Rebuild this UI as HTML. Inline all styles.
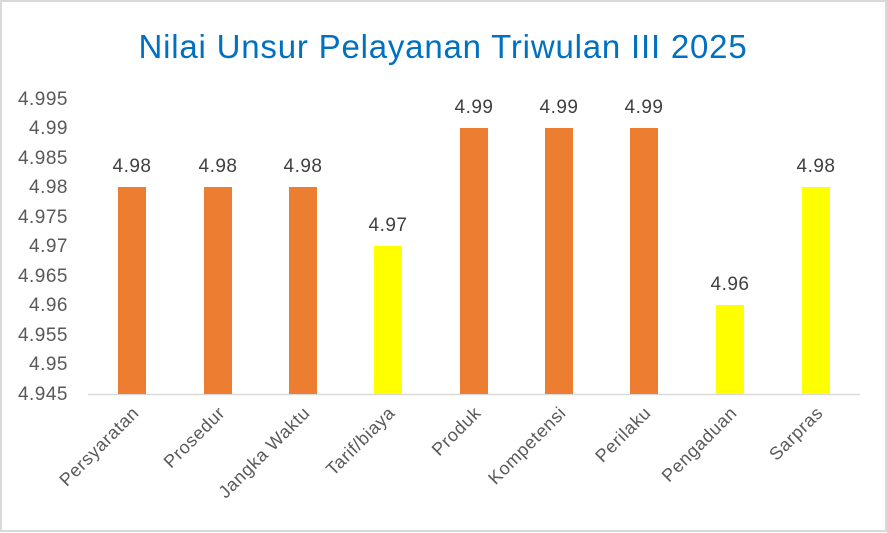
<!DOCTYPE html><html><head><style>body{margin:0;background:#fff}svg{display:block}</style></head><body>
<svg width="887" height="533" xmlns="http://www.w3.org/2000/svg" font-family="Liberation Sans, sans-serif">
<rect x="1" y="1" width="885" height="530" fill="#fff" stroke="#d9d9d9" stroke-width="2"/>
<text x="443" y="58" text-anchor="middle" font-size="33" letter-spacing="0.8" fill="#0070C0">Nilai Unsur Pelayanan Triwulan III 2025</text>
<g font-size="19" fill="#595959" text-anchor="end" letter-spacing="0.5">
<text x="68" y="105">4.995</text><text x="68" y="134">4.99</text><text x="68" y="164">4.985</text><text x="68" y="193">4.98</text><text x="68" y="223">4.975</text><text x="68" y="252">4.97</text><text x="68" y="282">4.965</text><text x="68" y="311">4.96</text><text x="68" y="341">4.955</text><text x="68" y="370">4.95</text><text x="68" y="400">4.945</text>
</g>
<line x1="88" y1="394.5" x2="860" y2="394.5" stroke="#d9d9d9" stroke-width="1.5"/>
<g>
<rect x="118" y="187" width="28" height="207" fill="#ED7D31"/>
<rect x="204" y="187" width="28" height="207" fill="#ED7D31"/>
<rect x="289" y="187" width="28" height="207" fill="#ED7D31"/>
<rect x="374" y="246" width="28" height="148" fill="#FFFF00"/>
<rect x="460" y="128" width="28" height="266" fill="#ED7D31"/>
<rect x="545" y="128" width="28" height="266" fill="#ED7D31"/>
<rect x="630" y="128" width="28" height="266" fill="#ED7D31"/>
<rect x="716" y="305" width="28" height="89" fill="#FFFF00"/>
<rect x="802" y="187" width="28" height="207" fill="#FFFF00"/>
</g>
<g font-size="19" fill="#404040" text-anchor="middle" letter-spacing="0.5">
<text x="132" y="172">4.98</text><text x="218" y="172">4.98</text><text x="303" y="172">4.98</text><text x="388" y="231">4.97</text><text x="474" y="113">4.99</text><text x="559" y="113">4.99</text><text x="644" y="113">4.99</text><text x="730" y="290">4.96</text><text x="816" y="172">4.98</text>
</g>
<g font-size="18" fill="#595959" text-anchor="end" letter-spacing="0.6">
<text transform="translate(140,414) rotate(-45)">Persyaratan</text>
<text transform="translate(226,414) rotate(-45)">Prosedur</text>
<text transform="translate(311,414) rotate(-45)">Jangka Waktu</text>
<text transform="translate(396,414) rotate(-45)">Tarif/biaya</text>
<text transform="translate(482,414) rotate(-45)">Produk</text>
<text transform="translate(567,414) rotate(-45)">Kompetensi</text>
<text transform="translate(652,414) rotate(-45)">Perilaku</text>
<text transform="translate(738,414) rotate(-45)">Pengaduan</text>
<text transform="translate(824,414) rotate(-45)">Sarpras</text>
</g>
</svg></body></html>
